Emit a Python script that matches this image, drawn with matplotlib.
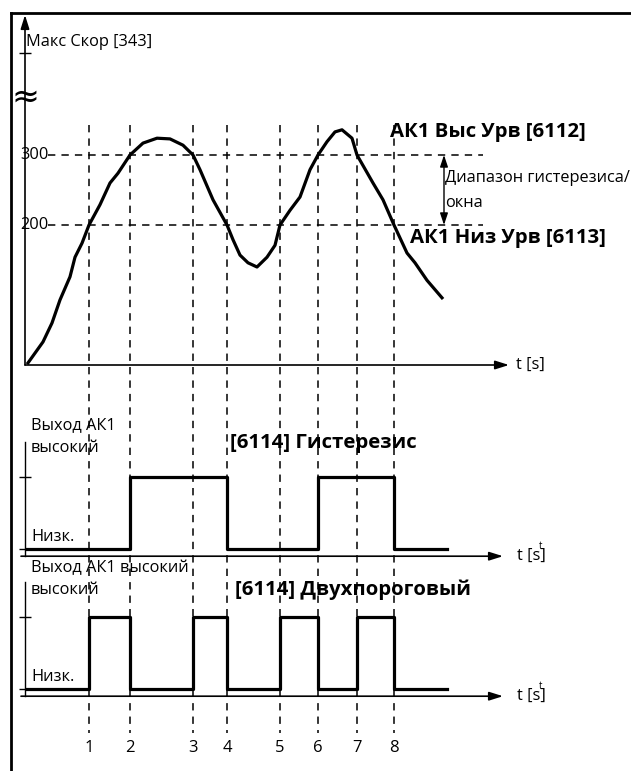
"""Hysteresis / window comparator diagram"""
import numpy as np
import matplotlib
matplotlib.use("Agg")
import matplotlib.pyplot as plt
from matplotlib.lines import Line2D

plt.rcParams.update({"font.family": ["Open Sans", "DejaVu Sans"], "font.size": 11.8,
                     "axes.linewidth": 1.0})

W, H = 631, 771
K = "#000000"
DASH = (0, (4.8, 4.0))
FS, FB = 11.8, 14.7   # regular / bold text sizes

# --- data ---
events = [6.4, 10.5, 16.8, 20.2, 25.5, 29.3, 33.2, 36.9]      # crossing instants 1..8
event_labels = ["1", "2", "3", "4", "5", "6", "7", "8"]
hi_level, lo_level, max_speed = 300, 200, 446
t_speed = [0.3, 1.8, 2.7, 3.5, 4.5, 5.0, 5.7, 6.4, 7.5, 8.5, 9.3, 10.5, 11.8, 13.2,
           14.5, 15.8, 16.8, 17.5, 18.8, 20.2, 20.8, 21.5, 22.3, 23.2, 24.2, 25.0,
           25.5, 26.5, 27.5, 28.5, 29.3, 30.2, 31.0, 31.7, 32.7, 33.2, 34.8, 35.8,
           36.9, 38.2, 39.0, 40.2, 41.7]
v_speed = [3, 33, 60, 93, 126, 154, 174, 200, 229, 260, 274, 300, 317, 324,
           323, 314, 300, 279, 236, 200, 179, 157, 146, 140, 154, 171,
           200, 221, 240, 279, 300, 319, 333, 336, 324, 300, 260, 236,
           200, 160, 146, 121, 96]
t_end = 42.2
hyst_t = [0.1, events[1], events[3], events[5], events[7], t_end]
hyst_v = [0, 1, 0, 1, 0, 0]
win_t = [0.1] + events + [t_end]
win_v = [0, 1, 0, 1, 0, 1, 0, 1, 0, 0]

X0, XMAX = 25 / W, 48.4
AW = 484 / W

fig = plt.figure(figsize=(W / 100, H / 100), dpi=100)

def fb(px):  # pixel row -> figure fraction
    return 1 - px / H

# overlay for the vertical dashed markers
ov = fig.add_axes([X0, 0, AW, 1])
ov.set_xlim(0, XMAX); ov.set_ylim(H, 0); ov.axis("off")
ov.vlines(events, 125, 733, colors=K, lw=1.1, linestyles=DASH)
for t, s in zip(events, event_labels):
    ov.text(t, 748, s, ha="center", va="center", fontsize=12)

def arrow(ax, xy0, xy1, coords="data"):
    ax.annotate("", xy=xy1, xytext=xy0, xycoords=coords, textcoords=coords,
                arrowprops=dict(arrowstyle="-|>,head_length=0.7,head_width=0.22",
                                lw=1.2, color=K, shrinkA=0, shrinkB=0))

# ---- top: speed ----
ax = fig.add_axes([X0, fb(365), AW, 350 / H])
ax.set_facecolor("none")
ax.set_xlim(0, XMAX); ax.set_ylim(0, 500)
for s in ax.spines.values():
    s.set_visible(False)
ax.set_xticks([])
ax.set_yticks([max_speed]); ax.set_yticklabels([])
ax.tick_params(axis="y", direction="inout", length=8, width=1.0)
arrow(ax, (0, 0), (0, 1), "axes fraction")
arrow(ax, (0, 0), (1, 0), "axes fraction")
ax.hlines([hi_level, lo_level], 2.3, 45.8, colors=K, lw=1.1, linestyles=DASH)
ax.plot(t_speed, v_speed, color=K, lw=2.3, solid_joinstyle="round")
ax.text(-0.5, hi_level, "300", ha="left", va="center", fontsize=FS)
ax.text(-0.5, lo_level, "200", ha="left", va="center", fontsize=FS)
ax.text(0.1, 461, "Макс Скор [343]", ha="left", va="center", fontsize=FS)
ax.text(0, 383, "≈", ha="center", va="center", fontsize=24, family="DejaVu Sans")
ax.text(36.5, 333, "АК1 Выс Урв [6112]", ha="left", va="center", fontsize=FB, fontweight="bold")
ax.text(38.5, 181, "АК1 Низ Урв [6113]", ha="left", va="center", fontsize=FB, fontweight="bold")
ax.text(42.0, 267, "Диапазон гистерезиса/", ha="left", va="center", fontsize=FS)
ax.text(42.0, 231, "окна", ha="left", va="center", fontsize=FS)
ax.annotate("", xy=(41.9, lo_level), xytext=(41.9, hi_level),
            arrowprops=dict(arrowstyle="<|-|>,head_length=0.6,head_width=0.2",
                            lw=1.0, color=K, shrinkA=0, shrinkB=0))
ax.text(49.1, 0, "t [s]", ha="left", va="center", fontsize=FS)

# ---- output panels ----
def out_panel(bottom_px, t, v, title, label_lines, label_y):
    a = fig.add_axes([X0, fb(bottom_px), AW, 114.2 / H])
    a.set_facecolor("none")
    a.set_xlim(0, XMAX); a.set_ylim(-0.1, 1.486)
    for n in ["top", "right", "bottom"]:
        a.spines[n].set_visible(False)
    a.spines["left"].set_linewidth(1.0)
    a.set_xticks([])
    a.set_yticks([0, 1]); a.set_yticklabels([])
    a.tick_params(axis="y", direction="inout", length=8, width=1.0)
    arrow(a, (-0.4, -0.1), (47.8, -0.1))
    a.plot(t, v, drawstyle="steps-post", color=K, lw=2.3)
    for s, y in zip(label_lines, label_y):
        a.text(0.6, y, s, ha="left", va="center", fontsize=FS)
    a.text(0.6, 0.17, "Низк.", ha="left", va="center", fontsize=FS)
    a.text(title[1], title[2], title[0], ha="left", va="center", fontsize=FB, fontweight="bold")
    a.text(49.2, -0.1, "t [s]", ha="left", va="center", fontsize=FS)
    a.text(51.6, 0.03, "t", ha="center", va="center", fontsize=7)
    return a

out_panel(556.2, hyst_t, hyst_v, ("[6114] Гистерезис", 20.5, 1.47),
          ["Выход АК1", "высокий"], [1.72, 1.40])
out_panel(696.2, win_t, win_v, ("[6114] Двухпороговый", 21.0, 1.375),
          ["Выход АК1 высокий", "высокий"], [1.68, 1.375])

# frame
fig.add_artist(Line2D([11 / W, 11 / W], [0, fb(13)], transform=fig.transFigure, lw=2.0, color=K))
fig.add_artist(Line2D([11 / W, 1], [fb(13), fb(13)], transform=fig.transFigure, lw=2.0, color=K))

fig.savefig("out.png", dpi=100)
